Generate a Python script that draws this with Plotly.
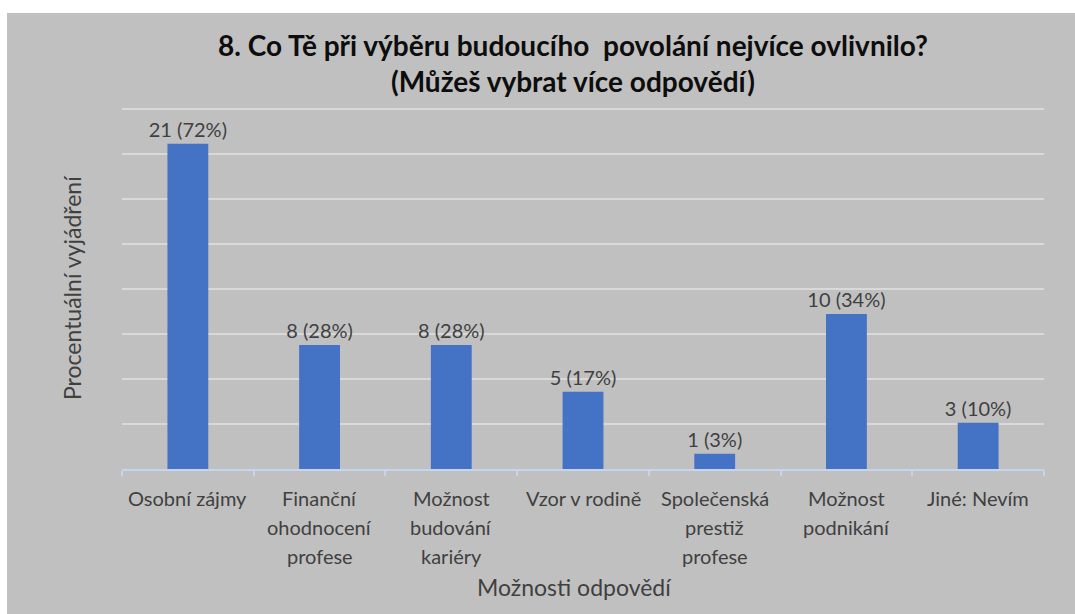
import plotly.graph_objects as go

categories = ["Osobní zájmy", "Finanční<br>ohodnocení<br>profese", "Možnost<br>budování<br>kariéry",
              "Vzor v rodině", "Společenská<br>prestiž<br>profese", "Možnost<br>podnikání", "Jiné: Nevím"]
counts = [21, 8, 8, 5, 1, 10, 3]
percents = [72.4, 27.6, 27.6, 17.2, 3.4, 34.5, 10.3]
pct_labels = ["72%", "28%", "28%", "17%", "3%", "34%", "10%"]
y_ticks = [0, 10, 20, 30, 40, 50, 60, 70, 80]

W, H = 1075, 614
ml, mr, mt, mb = 122, 31, 105, 145
pw, ph = W - ml - mr, H - mt - mb

FONT = "Lato, Carlito, Calibri, sans-serif"
TXT = "#404040"

cat_ids = [c.replace("<br>", " ") for c in categories]
texts = [f"{c} ({p})" for c, p in zip(counts, pct_labels)]

fig = go.Figure(go.Bar(
    x=cat_ids, y=percents, marker=dict(color="#4472C4", line=dict(width=0)),
    text=texts, texttemplate="%{text}", textposition="outside", constraintext="none",
    textfont=dict(family=FONT, size=20, color=TXT), cliponaxis=False, hoverinfo="skip",
))

annotations = []
for cid, lab in zip(cat_ids, categories):
    for i, line in enumerate(lab.split("<br>")):
        annotations.append(dict(x=cid, y=0, xref="x", yref="y", text=line, showarrow=False,
                                xanchor="center", yanchor="middle", yshift=-29 - 29 * i,
                                font=dict(family=FONT, size=20, color=TXT)))

annotations.append(dict(x=(574 - ml) / pw, y=(H - 587 - mb) / ph, xref="paper", yref="paper",
                        text="Možnosti odpovědí", showarrow=False, xanchor="center", yanchor="middle",
                        font=dict(family=FONT, size=23, color=TXT)))
annotations.append(dict(x=(72 - ml) / pw, y=(H - 288 - mb) / ph, xref="paper", yref="paper",
                        text="Procentuální vyjádření", showarrow=False, textangle=-90,
                        xanchor="center", yanchor="middle",
                        font=dict(family=FONT, size=23, color=TXT)))
annotations.append(dict(x=(573 - ml) / pw, y=(H - 63 - mb) / ph, xref="paper", yref="paper",
                        text="<b>8. Co Tě při výběru budoucího  povolání nejvíce ovlivnilo?<br>(Můžeš vybrat více odpovědí)</b>",
                        showarrow=False, xanchor="center", yanchor="middle", align="center",
                        font=dict(family=FONT, size=28, color="#0d0d0d")))

shapes = [dict(type="rect", xref="paper", yref="paper", layer="below",
               x0=(7 - ml) / pw, x1=(W + 5 - ml) / pw, y0=(-5 - mb) / ph, y1=(H - 13 - mb) / ph,
               fillcolor="#c0c0c0", line=dict(width=0))]

fig.update_layout(
    width=W, height=H, margin=dict(l=ml, r=mr, t=mt, b=mb),
    paper_bgcolor="white", plot_bgcolor="rgba(0,0,0,0)",
    bargap=0.69, showlegend=False,
    xaxis=dict(type="category", showticklabels=False, showline=True, linecolor="#c5d5ee", linewidth=2,
               ticks="outside", tickson="boundaries", ticklen=5, tickcolor="#c5d5ee", tickwidth=2,
               showgrid=False),
    yaxis=dict(range=[0, 81], tickvals=y_ticks, showticklabels=False, showgrid=True,
               gridcolor="#d9d9d9", gridwidth=1.5, zeroline=False, showline=False, ticks=""),
    annotations=annotations, shapes=shapes,
)

fig.write_html("out.html", config={"displayModeBar": False},
               post_script="document.body.style.margin='0';document.body.style.overflow='hidden';")
